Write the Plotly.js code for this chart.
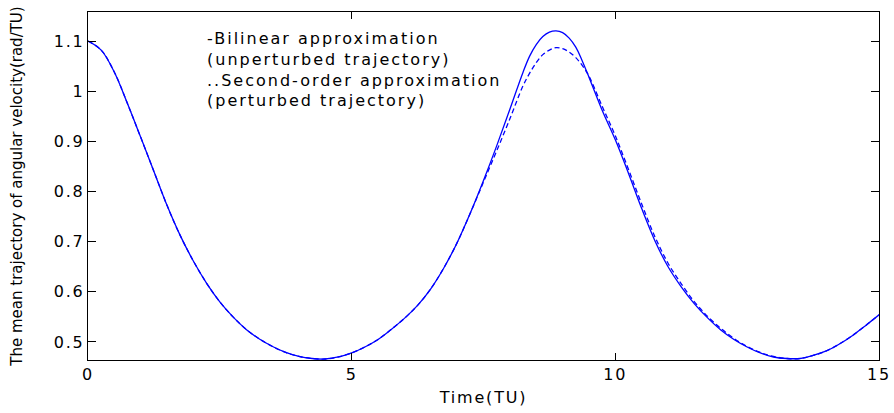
<!DOCTYPE html>
<html>
<head>
<meta charset="utf-8">
<script src="https://cdn.plot.ly/plotly-3.0.1.min.js"></script>
<style>
  html, body { margin: 0; padding: 0; background: #fff; }
  #chart { width: 894px; height: 413px; }
  #chart .xtick text, #chart .ytick text, #chart .g-xtitle text { letter-spacing: 1.8px; }
  #chart .annotation-text { letter-spacing: 2px; }
</style>
</head>
<body>
<div id="chart"></div>
<script>
// Time samples (TU)
const timeTU = [0, 0.25, 0.5, 0.75, 1, 1.25, 1.5, 1.75, 2, 2.25, 2.5, 2.75, 3, 3.25, 3.5, 3.75,
  4, 4.25, 4.5, 4.75, 5, 5.25, 5.5, 5.75, 6, 6.25, 6.5, 6.75, 7, 7.25, 7.5, 7.75,
  8, 8.25, 8.375, 8.5, 8.625, 8.75, 8.875, 9, 9.125, 9.25, 9.375, 9.5, 9.75, 10, 10.25, 10.5, 10.75,
  11, 11.25, 11.5, 11.75, 12, 12.25, 12.5, 12.75, 13, 13.25, 13.5, 13.75, 14, 14.25, 14.5, 14.75, 15];

// Bilinear approximation, unperturbed trajectory (rad/TU)
const bilinear = [1.100, 1.082, 1.038, 0.975, 0.908, 0.840, 0.772, 0.712, 0.661, 0.617, 0.580, 0.550,
  0.525, 0.506, 0.491, 0.479, 0.471, 0.467, 0.466, 0.470, 0.478, 0.490, 0.505, 0.525,
  0.547, 0.573, 0.606, 0.648, 0.698, 0.757, 0.822, 0.891,
  0.964, 1.038, 1.070, 1.093, 1.109, 1.118, 1.1205, 1.117, 1.106, 1.088, 1.060, 1.028, 0.962, 0.903, 0.836, 0.766, 0.702,
  0.650, 0.610, 0.576, 0.548, 0.524, 0.505, 0.490, 0.478, 0.470, 0.467, 0.467, 0.473, 0.482, 0.496, 0.513, 0.533, 0.554];

// Second-order approximation, perturbed trajectory (rad/TU)
const secondOrder = [1.100, 1.082, 1.038, 0.975, 0.908, 0.840, 0.772, 0.712, 0.661, 0.617, 0.580, 0.550,
  0.525, 0.506, 0.491, 0.479, 0.471, 0.467, 0.466, 0.470, 0.478, 0.490, 0.505, 0.525,
  0.547, 0.573, 0.606, 0.648, 0.698, 0.757, 0.819, 0.881,
  0.945, 1.011, 1.036, 1.057, 1.073, 1.082, 1.087, 1.085, 1.078, 1.067, 1.051, 1.030, 0.970, 0.911, 0.844, 0.775, 0.710,
  0.657, 0.616, 0.580, 0.551, 0.527, 0.507, 0.491, 0.479, 0.471, 0.467, 0.467, 0.473, 0.482, 0.496, 0.513, 0.533, 0.554];

const xTickVals = [0, 5, 10, 15];
const xTickText = ['0', '5', '10', '15'];
const yTickVals = [0.5, 0.6, 0.7, 0.8, 0.9, 1.0, 1.1];
const yTickText = ['0.5', '0.6', '0.7', '0.8', '0.9', '1', '1.1'];

const legendLines = [
  '-Bilinear approximation',
  '(unperturbed trajectory)',
  '..Second-order approximation',
  '(perturbed trajectory)'
];

const blue = '#0000ff';
const tickFont = { family: 'DejaVu Sans, Arial, sans-serif', size: 16, color: '#000' };

const traces = [
  {
    x: timeTU, y: bilinear, type: 'scatter', mode: 'lines',
    line: { color: blue, width: 1.3, shape: 'spline', smoothing: 1 },
    hoverinfo: 'skip'
  },
  {
    x: timeTU, y: secondOrder, type: 'scatter', mode: 'lines',
    line: { color: blue, width: 1.3, dash: '5px,3px', shape: 'spline', smoothing: 1 },
    hoverinfo: 'skip'
  }
];

const layout = {
  width: 894, height: 413,
  margin: { l: 88, r: 15, t: 12, b: 53 },
  paper_bgcolor: '#fff', plot_bgcolor: '#fff',
  showlegend: false,
  xaxis: {
    range: [0, 15],
    tickvals: xTickVals, ticktext: xTickText,
    ticks: 'inside', ticklen: 7, tickwidth: 1, tickcolor: '#000',
    showline: true, linecolor: '#000', linewidth: 1.2, mirror: 'ticks',
    showgrid: false, zeroline: false,
    tickfont: tickFont, ticklabelstandoff: 0,
    title: { text: 'Time(TU)', font: tickFont, standoff: 8 }
  },
  yaxis: {
    range: [0.464, 1.158],
    tickvals: yTickVals, ticktext: yTickText,
    ticks: 'inside', ticklen: 8, tickwidth: 1, tickcolor: '#000',
    showline: true, linecolor: '#000', linewidth: 1.2, mirror: 'ticks',
    showgrid: false, zeroline: false,
    tickfont: tickFont, ticklabelstandoff: -1,
    title: {
      text: 'The mean trajectory of angular velocity(rad/TU)',
      font: { family: 'DejaVu Sans, Arial, sans-serif', size: 15, color: '#000' },
      standoff: 32
    }
  },
  annotations: [{
    xref: 'paper', yref: 'paper',
    x: 0.148, y: 0.958, xanchor: 'left', yanchor: 'top',
    align: 'left', showarrow: false,
    text: legendLines.join('<br>'),
    font: { family: 'DejaVu Sans, Arial, sans-serif', size: 16, color: '#000' }
  }]
};

Plotly.newPlot('chart', traces, layout, { staticPlot: true, displayModeBar: false });
</script>
</body>
</html>
